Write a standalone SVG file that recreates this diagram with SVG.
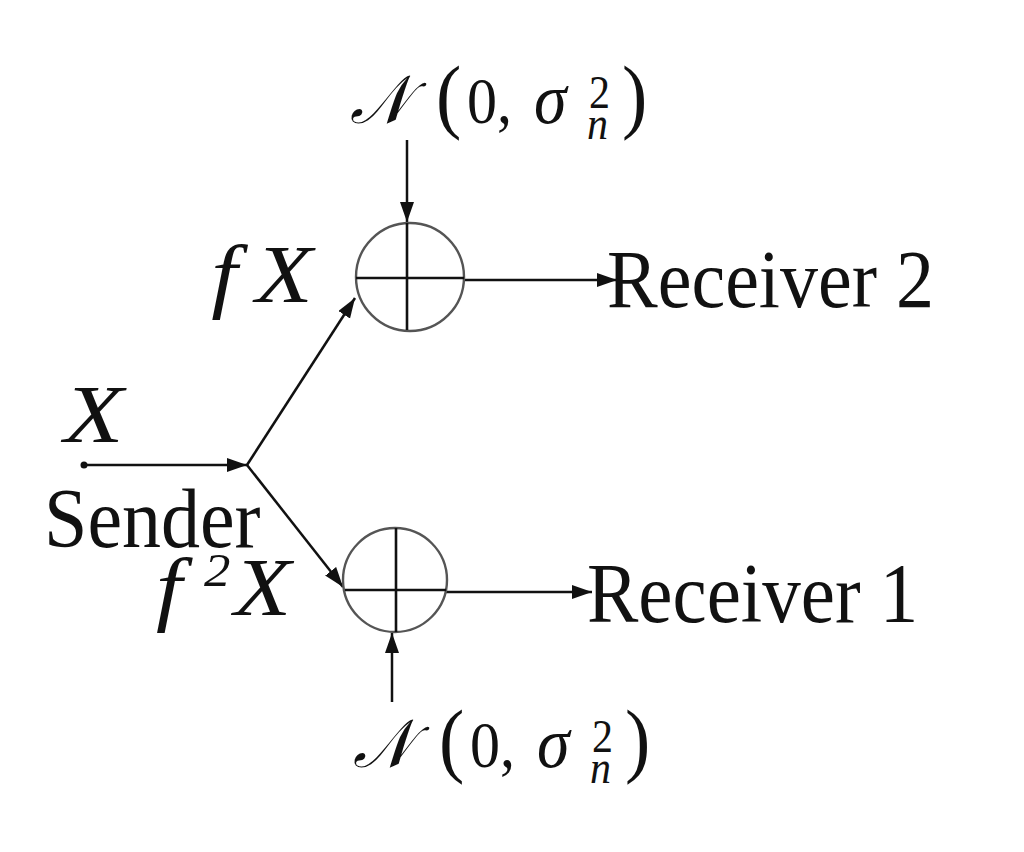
<svg xmlns="http://www.w3.org/2000/svg" width="1024" height="852" viewBox="0 0 1024 852">
<style>
  .t { font-family: "Liberation Serif", "Times New Roman", serif; fill: #111; }
  .m { font-family: "Liberation Serif", "Times New Roman", serif; font-style: italic; fill: #111; }
  .cal { font-family: "DejaVu Serif", "DejaVu Sans", "Noto Sans", serif; font-style: italic; fill: #111; }
  .ln { stroke: #111; stroke-width: 2.5; fill: none; }
  .circ { stroke: #555; stroke-width: 2.4; fill: #fff; }
  .cross { stroke: #111; stroke-width: 2.6; }
</style>
<defs>
  <marker id="ah" markerUnits="userSpaceOnUse" markerWidth="22" markerHeight="16" refX="20" refY="7" orient="auto">
    <path d="M0,0 L20,7 L0,14 z" fill="#111"/>
  </marker>
</defs>
<rect width="1024" height="852" fill="#fff"/>

<g id="connectors">
  <line class="ln" x1="407" y1="140" x2="407" y2="222" marker-end="url(#ah)"/>
  <line class="ln" x1="392" y1="702" x2="392" y2="633" marker-end="url(#ah)"/>
  <line class="ln" x1="83" y1="465" x2="247" y2="465" marker-end="url(#ah)"/>
  <circle cx="84" cy="465" r="3.5" fill="#111"/>
  <line class="ln" x1="247" y1="465" x2="355" y2="298" marker-end="url(#ah)"/>
  <line class="ln" x1="247" y1="465" x2="343" y2="587" marker-end="url(#ah)"/>
  <line class="ln" x1="465" y1="280" x2="617" y2="280" marker-end="url(#ah)"/>
  <line class="ln" x1="446" y1="592" x2="592" y2="592" marker-end="url(#ah)"/>
</g>

<g id="adder-top">
  <circle class="circ" cx="410" cy="277" r="54"/>
  <line class="cross" x1="356" y1="278" x2="464" y2="278"/>
  <line class="cross" x1="407" y1="223" x2="407" y2="330"/>
</g>

<g id="adder-bottom">
  <circle class="circ" cx="395" cy="580" r="52"/>
  <line class="cross" x1="345" y1="590" x2="446" y2="590"/>
  <line class="cross" x1="396" y1="528" x2="396" y2="632"/>
</g>

<g id="noise-top">
  <text class="t" transform="translate(0,123) scale(1,1.09)"><tspan class="cal" x="350" y="0" font-size="62">𝒩</tspan><tspan x="436" y="0" font-size="76">(</tspan><tspan x="467" y="0" font-size="60">0,</tspan><tspan class="m" x="534" y="0" font-size="66">σ</tspan><tspan x="589" y="-14" font-size="42">2</tspan><tspan class="m" x="587" y="15" font-size="42">n</tspan><tspan x="622" y="0" font-size="76">)</tspan></text>
</g>

<g id="noise-bottom">
  <text class="t" transform="translate(0,767) scale(1,1.09)"><tspan class="cal" x="353" y="0" font-size="62">𝒩</tspan><tspan x="439" y="0" font-size="76">(</tspan><tspan x="470" y="0" font-size="60">0,</tspan><tspan class="m" x="537" y="0" font-size="66">σ</tspan><tspan x="592" y="-14" font-size="42">2</tspan><tspan class="m" x="590" y="15" font-size="42">n</tspan><tspan x="625" y="0" font-size="76">)</tspan></text>
</g>

<g id="sender">
  <text class="m" transform="translate(64,442) scale(1.25,1.05)" font-size="78">X</text>
  <text class="t" transform="translate(44,547) scale(1,1.09)" font-size="78">Sender</text>
</g>

<g id="label-fX">
  <text class="m" transform="translate(0,302) scale(1.2,1.05)" font-size="78"><tspan x="176">f</tspan><tspan x="213">X</tspan></text>
</g>

<g id="label-f2X">
  <text class="m" transform="translate(0,615) scale(1.2,1.05)" font-size="78"><tspan x="130">f</tspan><tspan class="t" x="170" y="-28" font-size="44">2</tspan><tspan x="195" y="0">X</tspan></text>
</g>

<g id="receiver-2">
  <text class="t" transform="translate(607,307) scale(1,1.09)" font-size="76">Receiver 2</text>
</g>

<g id="receiver-1">
  <text class="t" transform="translate(587,622) scale(1,1.09)" font-size="77">Receiver 1</text>
</g>
</svg>
